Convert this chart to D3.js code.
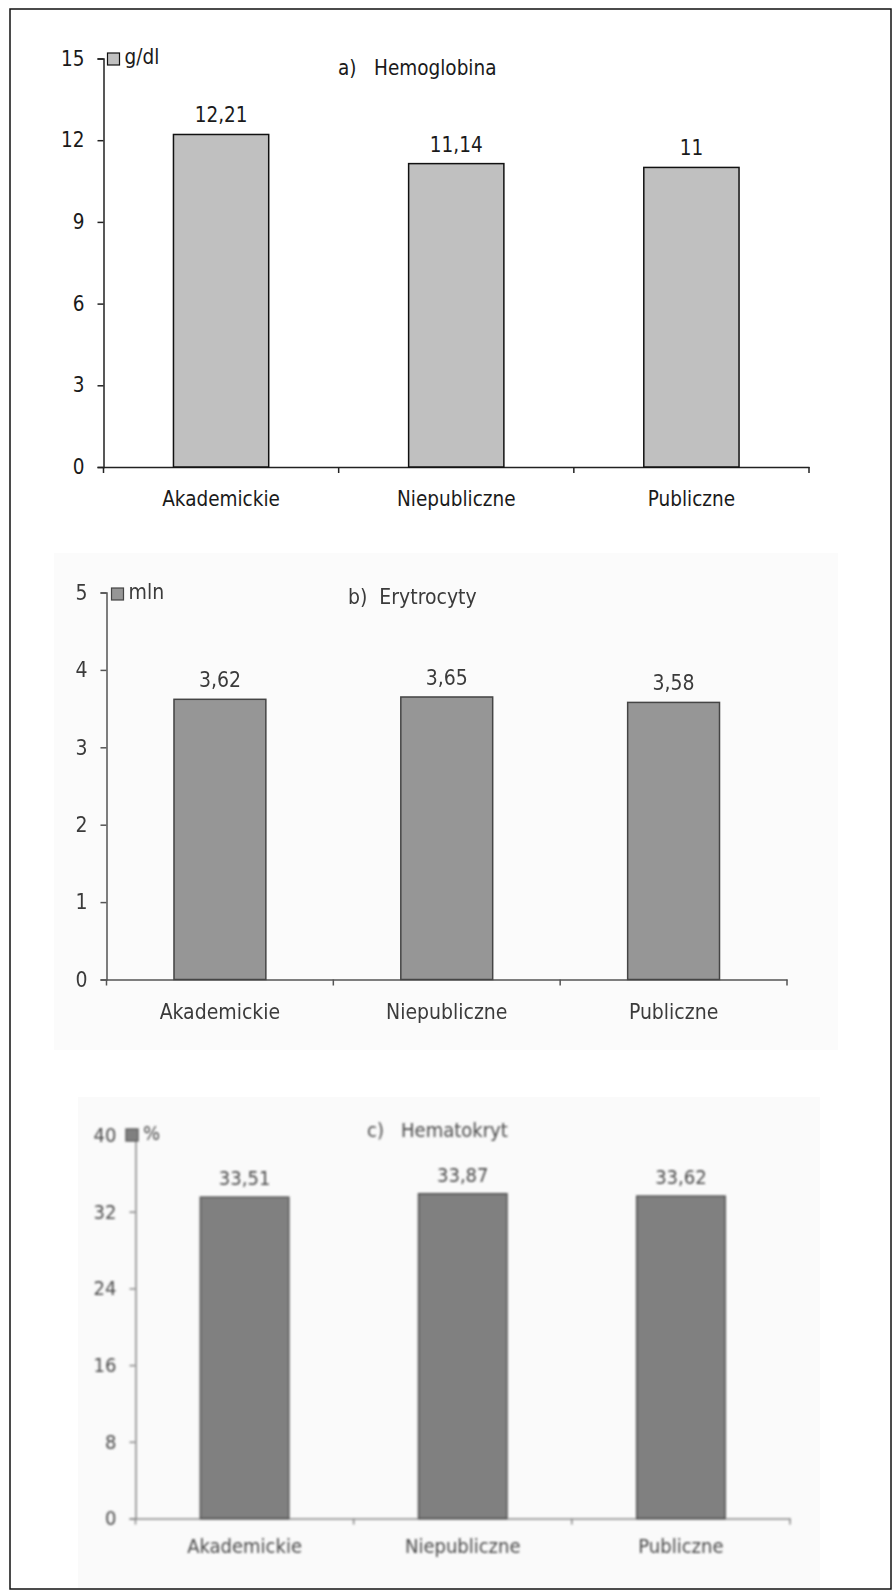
<!DOCTYPE html>
<html>
<head>
<meta charset="utf-8">
<script src="https://cdn.jsdelivr.net/npm/d3@7"></script>
<style>
  html, body { margin: 0; padding: 0; background: #fff; }
  svg { display: block; }
  text { font-family: "DejaVu Sans Condensed", "DejaVu Sans", sans-serif; }
</style>
</head>
<body>
<svg id="fig" width="893" height="1591"></svg>
<script>
// Categories and measured values (mean blood parameters per hospital type)
const categories = ["Akademickie", "Niepubliczne", "Publiczne"];
const hemoglobina = [12.21, 11.14, 11];
const erytrocyty = [3.62, 3.65, 3.58];
const hematokryt = [33.51, 33.87, 33.62];

const ticksHemoglobina = [0, 3, 6, 9, 12, 15];
const ticksErytrocyty = [0, 1, 2, 3, 4, 5];
const ticksHematokryt = [0, 8, 16, 24, 32, 40];

const titles = ["a)   Hemoglobina", "b)  Erytrocyty", "c)   Hematokryt"];
const units = ["g/dl", "mln", "%"];

const svg = d3.select("#fig");

// blur used for the softer lower panels
const defs = svg.append("defs");
defs.append("filter").attr("id", "soft").attr("x", "-5%").attr("y", "-5%").attr("width", "110%").attr("height", "110%")
  .append("feGaussianBlur").attr("stdDeviation", 0.7);
defs.append("filter").attr("id", "softer").attr("x", "-5%").attr("y", "-5%").attr("width", "110%").attr("height", "110%")
  .append("feGaussianBlur").attr("stdDeviation", 0.9);

const fmt = v => String(v).replace(".", ",");

const panels = [
  {
    values: hemoglobina, ticks: ticksHemoglobina, title: titles[0], unit: units[0],
    x0: 103.5, x1: 809, yBase: 467, yTop: 58.5,
    fill: "#c0c0c0", stroke: "#111", axis: "#222", text: "#1a1a1a",
    titleX: 338, titleY: 75, catY: 506, fontSize: 20.5,
    legend: { x: 107.5, y: 53, s: 12 }, bg: null, filter: null
  },
  {
    values: erytrocyty, ticks: ticksErytrocyty, title: titles[1], unit: units[1],
    x0: 106.5, x1: 787, yBase: 979.5, yTop: 592.5,
    fill: "#969696", stroke: "#444", axis: "#555", text: "#3a3a3a",
    titleX: 348, titleY: 604, catY: 1019, fontSize: 21,
    legend: { x: 111.5, y: 588, s: 12 }, bg: { x: 54, y: 553, w: 784, h: 497, c: "#fbfbfb" }, filter: "url(#soft)"
  },
  {
    values: hematokryt, ticks: ticksHematokryt, title: titles[2], unit: units[2],
    x0: 135.5, x1: 790, yBase: 1518.5, yTop: 1135,
    fill: "#808080", stroke: "#4a4a4a", axis: "#888", text: "#4a4a4a",
    titleX: 367, titleY: 1137, catY: 1553, fontSize: 20,
    legend: { x: 126, y: 1129, s: 12 }, bg: { x: 78, y: 1097, w: 742, h: 491, c: "#fafafa" }, filter: "url(#softer)"
  }
];

panels.forEach(p => {
  if (p.bg) {
    svg.append("rect").attr("x", p.bg.x).attr("y", p.bg.y)
      .attr("width", p.bg.w).attr("height", p.bg.h).attr("fill", p.bg.c);
  }
  const g = svg.append("g");
  if (p.filter) g.attr("filter", p.filter);

  const x = d3.scaleBand().domain(categories).range([p.x0, p.x1]).paddingInner(0).paddingOuter(0);
  const y = d3.scaleLinear().domain([0, d3.max(p.ticks)]).range([p.yBase, p.yTop]);
  const barW = x.bandwidth() * 0.405;

  // y axis
  const yAxis = d3.axisLeft(y).tickValues(p.ticks).tickSize(6).tickPadding(13).tickFormat(d => d);
  const ya = g.append("g").attr("transform", `translate(${p.x0},0)`).call(yAxis);
  ya.select(".domain").attr("stroke", p.axis).attr("stroke-width", 1.5);
  ya.selectAll(".tick line").attr("stroke", p.axis).attr("stroke-width", 1.5);
  ya.selectAll(".tick text").attr("fill", p.text).style("font-size", p.fontSize + "px")
    .style("font-family", '"DejaVu Sans Condensed", "DejaVu Sans", sans-serif');

  // x axis with ticks at category boundaries
  const xAxis = d3.axisBottom(x).tickSize(0).tickFormat("");
  const xa = g.append("g").attr("transform", `translate(0,${p.yBase})`).call(xAxis);
  xa.select(".domain").attr("stroke", p.axis).attr("stroke-width", 1.5);
  const bounds = [p.x0].concat(categories.map(c => x(c) + x.bandwidth()));
  xa.selectAll(".bound").data(bounds).enter().append("line")
    .attr("x1", d => d).attr("x2", d => d).attr("y1", 0).attr("y2", 6)
    .attr("stroke", p.axis).attr("stroke-width", 1.5);

  // bars
  g.selectAll(".bar").data(p.values).enter().append("rect")
    .attr("x", (d, i) => x(categories[i]) + x.bandwidth() / 2 - barW / 2)
    .attr("y", d => y(d))
    .attr("width", barW)
    .attr("height", d => p.yBase - y(d))
    .attr("fill", p.fill).attr("stroke", p.stroke).attr("stroke-width", 1.5);

  // value labels
  g.selectAll(".val").data(p.values).enter().append("text")
    .attr("x", (d, i) => x(categories[i]) + x.bandwidth() / 2)
    .attr("y", d => y(d) - 12)
    .attr("text-anchor", "middle").attr("fill", p.text)
    .style("font-size", p.fontSize + "px")
    .text(d => fmt(d));

  // category labels
  g.selectAll(".cat").data(categories).enter().append("text")
    .attr("x", d => x(d) + x.bandwidth() / 2)
    .attr("y", p.catY)
    .attr("text-anchor", "middle").attr("fill", p.text)
    .style("font-size", p.fontSize + "px")
    .text(d => d);

  // legend
  g.append("rect").attr("x", p.legend.x).attr("y", p.legend.y)
    .attr("width", p.legend.s).attr("height", p.legend.s)
    .attr("fill", p.fill).attr("stroke", p.stroke).attr("stroke-width", 1.2);
  g.append("text").attr("x", p.legend.x + p.legend.s + 5).attr("y", p.legend.y + p.legend.s - 1)
    .attr("fill", p.text).style("font-size", p.fontSize + "px").text(p.unit);

  // title
  g.append("text").attr("x", p.titleX).attr("y", p.titleY)
    .attr("fill", p.text).style("font-size", p.fontSize + "px")
    .attr("xml:space", "preserve").style("white-space", "pre")
    .text(p.title);
});

// outer frame
svg.append("rect").attr("x", 10).attr("y", 9).attr("width", 881).attr("height", 1580)
  .attr("fill", "none").attr("stroke", "#111").attr("stroke-width", 1.5);
</script>
</body>
</html>
